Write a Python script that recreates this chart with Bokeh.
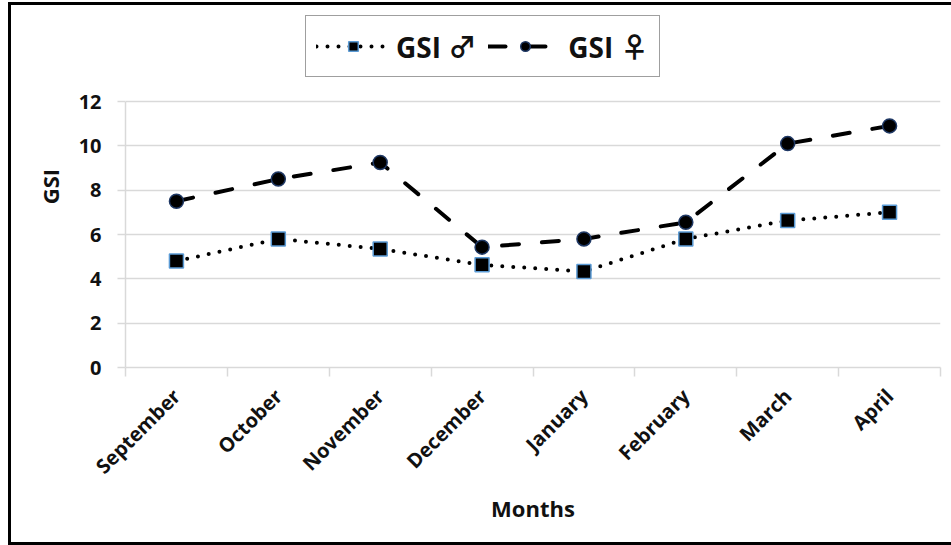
import math

from bokeh.embed import file_html
from bokeh.models import FixedTicker, Legend, LegendItem
from bokeh.plotting import figure
from bokeh.resources import INLINE

# Monthly gonadosomatic index
months = ["September", "October", "November", "December",
          "January", "February", "March", "April"]
gsi_male = [4.8, 5.8, 5.35, 4.63, 4.33, 5.8, 6.63, 7.0]
gsi_female = [7.5, 8.5, 9.25, 5.43, 5.8, 6.55, 10.1, 10.9]
y_ticks = [0, 2, 4, 6, 8, 10, 12]

FONT = "Open Sans"
LEGEND_FONT = "'Open Sans', 'Noto Sans CJK JP'"
GRID = "#d9d9d9"

W, H = 940, 537
# pixel layout of the drawing area
FRAME_BOTTOM = 362      # canvas px from top where y = 0 sits
AXIS_PX = 266           # canvas px spanned by the 0..12 axis
Y_MAX = max(y_ticks)
# the frame reaches the canvas top so the legend can sit above the axis
y_end = Y_MAX * FRAME_BOTTOM / AXIS_PX

# one slot per month on a numeric axis so ticks can sit between categories
xs = [i + 0.5 for i in range(len(months))]

p = figure(
    width=W, height=H,
    x_range=(0, len(months)), y_range=(0, y_end),
    output_backend="svg", toolbar_location=None,
    min_border_left=114, min_border_right=W - 929,
    min_border_top=0, min_border_bottom=H - FRAME_BOTTOM,
)
p.outline_line_color = None
p.border_fill_color = "white"

# x axis: labels centred on each month, tick marks on the boundaries
p.xaxis.ticker = FixedTicker(ticks=xs, minor_ticks=list(range(len(months) + 1)))
p.xaxis.major_label_overrides = {x: m for x, m in zip(xs, months)}
p.xaxis.major_tick_line_color = None
p.xaxis.minor_tick_in = 0
p.xaxis.minor_tick_out = 9
p.xaxis.minor_tick_line_color = GRID
p.xaxis.minor_tick_line_width = 1.5
p.xaxis.axis_line_color = GRID
p.xaxis.axis_line_width = 1.5
p.xaxis.major_label_orientation = math.pi / 4
p.xaxis.major_label_standoff = 16
p.xaxis.axis_label = "Months"
p.xaxis.axis_label_standoff = 1

p.yaxis.ticker = FixedTicker(ticks=y_ticks)
p.yaxis.bounds = (0, Y_MAX)
p.yaxis.minor_tick_line_color = None
p.yaxis.major_tick_in = 0
p.yaxis.major_tick_out = 8
p.yaxis.major_tick_line_color = GRID
p.yaxis.major_tick_line_width = 1.5
p.yaxis.axis_line_color = GRID
p.yaxis.axis_line_width = 1.5
p.yaxis.major_label_standoff = 16
p.yaxis.axis_label = "GSI"
p.yaxis.axis_label_standoff = 11

for ax in (p.xaxis, p.yaxis):
    ax.major_label_text_font = FONT
    ax.major_label_text_font_style = "bold"
    ax.major_label_text_font_size = "20px"
    ax.major_label_text_color = "#111111"
    ax.axis_label_text_font = FONT
    ax.axis_label_text_font_style = "bold"
    ax.axis_label_text_font_size = "22px"
    ax.axis_label_text_color = "#111111"

p.xgrid.grid_line_color = None
p.ygrid.grid_line_color = GRID
p.ygrid.grid_line_width = 1.5

male_line = p.line(xs, gsi_male, line_color="black", line_width=4,
                   line_dash="0 11", line_cap="round")
male_pts = p.scatter(xs, gsi_male, marker="square", size=14,
                     fill_color="black", line_color="#5b9bd5", line_width=1.5)

female_line = p.line(xs, gsi_female, line_color="black", line_width=4,
                     line_dash="17 23", line_cap="round")
female_pts = p.scatter(xs, gsi_female, marker="circle", size=14,
                       fill_color="black", line_color="#1f3864", line_width=1.5)

legend = Legend(
    items=[
        LegendItem(label="GSI \u2642", renderers=[male_line, male_pts]),
        LegendItem(label="GSI \u2640", renderers=[female_line, female_pts]),
    ],
    orientation="horizontal",
    location=(180, 290),
    label_text_font=LEGEND_FONT, label_text_font_style="bold",
    label_text_font_size="28px", label_text_color="#111111",
    glyph_width=74, glyph_height=24, label_standoff=6,
    spacing=12, padding=10, margin=0,
    border_line_color="#404040", border_line_width=1,
    background_fill_color="white", background_fill_alpha=1,
)
p.add_layout(legend, "center")

# page frame: black rule on the left, top and bottom, open to the right
PAGE_CSS = """<style>
html, body { overflow: hidden; }
body { margin: 0; padding: 5px 0 0 11px; }
html::before {
  content: ""; position: fixed; left: 8px; top: 2px;
  width: 2000px; height: 537px;
  border: 3px solid black; border-right: none;
  pointer-events: none; z-index: 10;
}
</style>"""

html = file_html(p, INLINE)
html = html.replace("</head>", PAGE_CSS + "</head>", 1)
open("out.html", "w").write(html)
